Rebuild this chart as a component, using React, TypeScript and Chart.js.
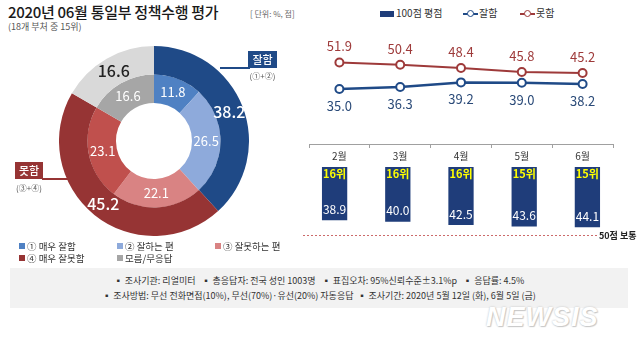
import React, { useEffect, useRef } from "react";
import { Chart, registerables } from "chart.js";

Chart.register(...registerables);

const FONT = '"Noto Sans CJK KR", "Noto Sans", sans-serif';

// ---- Donut data ----
const outerLabels = ["잘함", "못함", "모름/무응답"];
const outerValues = [38.2, 45.2, 16.6];
const outerColors = ["#1f4a87", "#963434", "#d9d9d9"];
const innerLabels = ["① 매우 잘함", "② 잘하는 편", "③ 잘못하는 편", "④ 매우 잘못함", "모름/무응답"];
const innerValues = [11.8, 26.5, 22.1, 23.1, 16.6];
const innerColors = ["#4f81c3", "#8eaadb", "#d98383", "#c0504d", "#a6a6a6"];

// ---- Trend data ----
const months = ["2월", "3월", "4월", "5월", "6월"];
const goodValues = [35.0, 36.3, 39.2, 39.0, 38.2];
const badValues = [51.9, 50.4, 48.4, 45.8, 45.2];
const scoreValues = [38.9, 40.0, 42.5, 43.6, 44.1];
const rankLabels = ["16위", "16위", "16위", "15위", "15위"];
const normalScore = 50;
const normalLabel = "50점 보통";

const BLUE = "#1f4a87";
const RED = "#9e3a3a";
const BAR = "#1f3d7a";

const donutLabelPlugin = {
  id: "donutLabels",
  afterDatasetsDraw(chart: any) {
    const ctx = chart.ctx;
    ctx.save();
    ctx.textAlign = "center";
    ctx.textBaseline = "middle";
    chart.data.datasets.forEach((ds: any, di: number) => {
      const meta = chart.getDatasetMeta(di);
      meta.data.forEach((arc: any, i: number) => {
        const p = arc.tooltipPosition();
        const v = ds.data[i];
        if (di === 0) {
          ctx.font = `500 16px ${FONT}`;
          ctx.fillStyle = i === 2 ? "#222" : "#fff";
        } else {
          ctx.font = `13px ${FONT}`;
          ctx.fillStyle = "#fff";
        }
        ctx.fillText(v.toFixed(1), p.x, p.y);
      });
    });
    ctx.restore();
  },
};

const lineLabelPlugin = {
  id: "lineLabels",
  afterDatasetsDraw(chart: any) {
    const ctx = chart.ctx;
    ctx.save();
    ctx.textAlign = "center";
    ctx.textBaseline = "middle";
    ctx.font = `13px ${FONT}`;
    chart.data.datasets.forEach((ds: any, di: number) => {
      const meta = chart.getDatasetMeta(di);
      meta.data.forEach((pt: any, i: number) => {
        const v = ds.data[i];
        ctx.fillStyle = di === 0 ? "#2a4a78" : "#9e3a3a";
        const dy = di === 0 ? 17 : -16;
        ctx.fillText(v.toFixed(1), pt.x, pt.y + dy);
      });
    });
    ctx.restore();
  },
};

const barLabelPlugin = {
  id: "barLabels",
  beforeDatasetsDraw(chart: any) {
    const ctx = chart.ctx;
    const y = Math.round(chart.scales.y.getPixelForValue(normalScore)) + 0.5;
    const left = chart.chartArea.left;
    const right = chart.chartArea.right - 22;
    ctx.save();
    ctx.strokeStyle = "#cc6a6a";
    ctx.lineWidth = 1;
    ctx.setLineDash([2, 2]);
    ctx.beginPath();
    ctx.moveTo(left, y);
    ctx.lineTo(right, y);
    ctx.stroke();
    ctx.setLineDash([]);
    ctx.fillStyle = "#222";
    ctx.font = `bold 9px ${FONT}`;
    ctx.textAlign = "left";
    ctx.textBaseline = "middle";
    ctx.fillText(normalLabel, right + 2, y);
    ctx.restore();
  },
  afterDatasetsDraw(chart: any) {
    const ctx = chart.ctx;
    const meta = chart.getDatasetMeta(0);
    ctx.save();
    ctx.textAlign = "center";
    ctx.textBaseline = "middle";
    meta.data.forEach((bar: any, i: number) => {
      ctx.font = `bold 11px ${FONT}`;
      ctx.fillStyle = "#ffff00";
      ctx.fillText(rankLabels[i], bar.x, bar.base + 7);
      ctx.font = `12px ${FONT}`;
      ctx.fillStyle = "#fff";
      ctx.fillText(scoreValues[i].toFixed(1), bar.x, bar.y - 11);
    });
    ctx.restore();
  },
};

function DonutChart() {
  const ref = useRef<HTMLCanvasElement>(null);
  useEffect(() => {
    const chart = new Chart(ref.current as HTMLCanvasElement, {
      type: "doughnut",
      data: {
        labels: innerLabels,
        datasets: [
          { label: "outer", data: outerValues, backgroundColor: outerColors, borderWidth: 0 },
          { label: "inner", data: innerValues, backgroundColor: innerColors, borderWidth: 0 },
        ],
      },
      options: {
        animation: false,
        responsive: false,
        cutout: "40%",
        layout: { padding: 0 },
        plugins: { legend: { display: false }, tooltip: { enabled: false } },
      },
      plugins: [donutLabelPlugin],
    } as any);
    return () => chart.destroy();
  }, []);
  return (
    <canvas
      ref={ref}
      width={190}
      height={190}
      style={{ position: "absolute", left: 59, top: 46, width: 190, height: 190 }}
    />
  );
}

function LineChart() {
  const ref = useRef<HTMLCanvasElement>(null);
  useEffect(() => {
    const chart = new Chart(ref.current as HTMLCanvasElement, {
      type: "line",
      data: {
        labels: months,
        datasets: [
          {
            label: "잘함",
            data: goodValues,
            borderColor: BLUE,
            borderWidth: 2.5,
            pointBackgroundColor: "#fff",
            pointBorderColor: BLUE,
            pointBorderWidth: 2,
            pointRadius: 4,
            tension: 0,
          },
          {
            label: "못함",
            data: badValues,
            borderColor: RED,
            borderWidth: 2,
            pointBackgroundColor: "#fff",
            pointBorderColor: RED,
            pointBorderWidth: 2,
            pointRadius: 4,
            tension: 0,
          },
        ],
      },
      options: {
        animation: false,
        responsive: false,
        layout: { padding: 0 },
        plugins: { legend: { display: false }, tooltip: { enabled: false } },
        scales: {
          x: {
            offset: true,
            grid: {
              offset: true,
              drawOnChartArea: false,
              drawTicks: true,
              tickLength: 4,
              color: "#a0a0a0",
            },
            border: { display: true, color: "#a0a0a0" },
            ticks: { padding: 2, color: "#333", font: { family: FONT, size: 10 } },
            afterFit: (s: any) => {
              s.height = 18;
            },
          },
          y: { display: false, min: 0, max: 70 },
        },
      },
      plugins: [lineLabelPlugin],
    } as any);
    return () => chart.destroy();
  }, []);
  return (
    <canvas
      ref={ref}
      width={316}
      height={134}
      style={{ position: "absolute", left: 303, top: 28, width: 316, height: 134 }}
    />
  );
}

function BarChart() {
  const ref = useRef<HTMLCanvasElement>(null);
  useEffect(() => {
    const chart = new Chart(ref.current as HTMLCanvasElement, {
      type: "bar",
      data: {
        labels: months,
        datasets: [
          {
            label: "100점 평점",
            data: scoreValues,
            backgroundColor: BAR,
            borderWidth: 0,
            barPercentage: 0.4,
            categoryPercentage: 1,
          },
        ],
      },
      options: {
        animation: false,
        responsive: false,
        layout: { padding: { left: 0, right: 18, top: 0, bottom: 0 } },
        plugins: { legend: { display: false }, tooltip: { enabled: false } },
        scales: {
          x: { display: false },
          y: { display: false, reverse: true, min: 0, max: 60 },
        },
      },
      plugins: [barLabelPlugin],
    } as any);
    return () => chart.destroy();
  }, []);
  return (
    <canvas
      ref={ref}
      width={334}
      height={82}
      style={{ position: "absolute", left: 303, top: 167, width: 334, height: 82 }}
    />
  );
}

const abs = (s: React.CSSProperties): React.CSSProperties => ({ position: "absolute", ...s });

function LegendLine({ left, color, label }: { left: number; color: string; label: string }) {
  return (
    <>
      <div style={abs({ left, top: 13, width: 15, height: 2, background: color })} />
      <div
        style={abs({
          left: left + 4,
          top: 10,
          width: 5,
          height: 5,
          borderRadius: "50%",
          background: "#fff",
          border: `1.5px solid ${color}`,
        })}
      />
      <div style={abs({ left: left + 16, top: 6, fontSize: 10, color: "#333", lineHeight: "14px" })}>{label}</div>
    </>
  );
}

export default function App() {
  const legendItems = [
    { c: innerColors[0], t: innerLabels[0], x: 19, y: 240 },
    { c: innerColors[1], t: innerLabels[1], x: 117, y: 240 },
    { c: innerColors[2], t: innerLabels[2], x: 215, y: 240 },
    { c: outerColors[1], t: innerLabels[3], x: 19, y: 252 },
    { c: innerColors[4], t: innerLabels[4], x: 117, y: 252 },
  ];
  return (
    <div
      style={{
        position: "fixed",
        left: 0,
        top: 0,
        width: 637,
        height: 348,
        background: "#fff",
        overflow: "hidden",
        fontFamily: FONT,
      }}
    >
      {/* Title */}
      <div style={abs({ left: 8, top: 2, fontSize: 15, fontWeight: 500, color: "#1a1a1a", letterSpacing: -0.3, whiteSpace: "nowrap", lineHeight: "20px" })}>
        2020년 06월 통일부 정책수행 평가
      </div>
      <div style={abs({ left: 8, top: 20, fontSize: 9, color: "#555", whiteSpace: "nowrap", lineHeight: "13px" })}>
        (18개 부처 중 15위)
      </div>
      <div style={abs({ left: 250, top: 8, fontSize: 8, color: "#666", whiteSpace: "nowrap", lineHeight: "12px" })}>
        [ 단위: %, 점]
      </div>

      {/* Top legend */}
      <div style={abs({ left: 380, top: 11, width: 14, height: 6, background: BAR })} />
      <div style={abs({ left: 396, top: 6, fontSize: 10, color: "#333", lineHeight: "14px", whiteSpace: "nowrap" })}>100점 평점</div>
      <LegendLine left={463} color={BLUE} label="잘함" />
      <LegendLine left={520} color={RED} label="못함" />

      <DonutChart />

      {/* Callouts */}
      <div style={abs({ left: 220, top: 67, width: 30, height: 1.5, background: BLUE })} />
      <div style={abs({ left: 248, top: 51, width: 29, height: 17, background: BLUE, color: "#fff", fontSize: 11, fontWeight: 500, textAlign: "center", lineHeight: "17px" })}>잘함</div>
      <div style={abs({ left: 244, top: 70, width: 37, fontSize: 8, color: "#555", textAlign: "center", lineHeight: "12px" })}>(①+②)</div>

      <div style={abs({ left: 42, top: 178, width: 27, height: 1.5, background: outerColors[1] })} />
      <div style={abs({ left: 15, top: 162, width: 28, height: 17, background: outerColors[1], color: "#fff", fontSize: 11, fontWeight: 500, textAlign: "center", lineHeight: "17px" })}>못함</div>
      <div style={abs({ left: 11, top: 182, width: 36, fontSize: 8, color: "#555", textAlign: "center", lineHeight: "12px" })}>(③+④)</div>

      <LineChart />
      <BarChart />

      {/* Bottom legend */}
      {legendItems.map((it, i) => (
        <div key={i} style={abs({ left: it.x, top: it.y, fontSize: 9.5, color: "#333", lineHeight: "12px", whiteSpace: "nowrap" })}>
          <span style={{ display: "inline-block", width: 6, height: 6, background: it.c, marginRight: 2, verticalAlign: "1px" }} />
          {it.t}
        </div>
      ))}

      {/* Notes */}
      <div style={abs({ left: 10, top: 268, width: 618, height: 40, background: "#f2f2f2" })} />
      <div style={abs({ left: 10, top: 273, width: 618, fontSize: 9, color: "#333", textAlign: "center", lineHeight: "15px", whiteSpace: "nowrap" })}>
        ▪ 조사기관: 리얼미터 &nbsp; ▪ 총응답자: 전국 성인 1003명 &nbsp; ▪ 표집오차: 95%신뢰수준±3.1%p &nbsp; ▪ 응답률: 4.5%
        <br />
        ▪ 조사방법: 무선 전화면접(10%), 무선(70%)·유선(20%) 자동응답 &nbsp;▪ 조사기간: 2020년 5월 12일 (화), 6월 5일 (금)
      </div>

      {/* Watermark */}
      <div
        style={abs({
          left: 486,
          top: 302,
          fontSize: 27,
          fontWeight: 900,
          fontStyle: "italic",
          color: "#fff",
          fontFamily: '"Liberation Sans", Arial, sans-serif',
          letterSpacing: 1,
          lineHeight: "30px",
          textShadow: "0 0 2px #bbb, 1px 1px 1px #ccc",
        })}
      >
        NEWSIS
      </div>
    </div>
  );
}
